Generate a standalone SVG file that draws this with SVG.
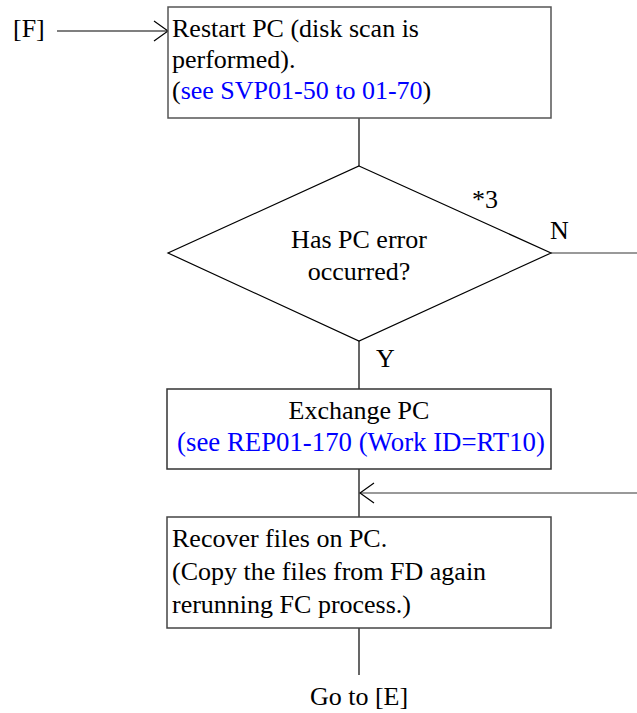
<svg xmlns="http://www.w3.org/2000/svg" width="637" height="713" viewBox="0 0 637 713" font-family="'Liberation Serif', 'DejaVu Serif', serif" font-size="26">
<style>
text{font-family:'Liberation Serif','DejaVu Serif',serif;font-size:26px;fill:#000}
.b{fill:#0000ff}
.box{fill:#fff;stroke:#555;stroke-width:1.5}
.ln{fill:none;stroke:#000;stroke-width:1.2}
.gl{fill:none;stroke:#777;stroke-width:1.5}
.c{text-anchor:middle}
</style>
<defs>
<marker id="oa" viewBox="0 0 16 22" refX="15" refY="11" markerWidth="16" markerHeight="22" markerUnits="userSpaceOnUse" orient="auto">
<path d="M1,1 L15,11 L1,21" fill="none" stroke="#000" stroke-width="1.2"/>
</marker>
</defs>
<g id="connectors">
<line class="ln" x1="57" y1="31" x2="168" y2="31" marker-end="url(#oa)"/>
<line class="ln" x1="359" y1="118" x2="359" y2="166"/>
<line class="gl" x1="551" y1="253" x2="637" y2="253"/>
<line class="ln" x1="359" y1="341" x2="359" y2="389"/>
<line class="ln" x1="359" y1="469" x2="359" y2="517"/>
<line class="gl" x1="637" y1="493" x2="360" y2="493" marker-end="url(#oa)"/>
<line class="ln" x1="359" y1="628" x2="359" y2="675"/>
</g>
<g id="startF">
<text x="13" y="37">[F]</text>
</g>
<g id="restart">
<rect class="box" x="168" y="7" width="383" height="111"/>
<text x="172" y="37">Restart PC (disk scan is</text>
<text x="172" y="68">performed).</text>
<text x="172" y="99">(<tspan class="b">see SVP01-50 to 01-70</tspan>)</text>
</g>
<g id="decision">
<polygon points="359,166 551,253 359,341 168,253" fill="#fff" stroke="#000" stroke-width="1.2"/>
<text class="c" x="359" y="248">Has PC error</text>
<text class="c" x="359" y="280">occurred?</text>
<text x="472" y="208">*3</text>
<text x="550" y="239">N</text>
<text x="376" y="367">Y</text>
</g>
<g id="exchange">
<rect class="box" x="167" y="389" width="384" height="80" style="stroke:#333"/>
<text class="c" x="359" y="419">Exchange PC</text>
<text class="c b" x="361" y="451" style="font-size:26.8px">(see REP01-170 (Work ID=RT10)</text>
</g>
<g id="recover">
<rect class="box" x="167" y="517" width="384" height="111" style="stroke:#444"/>
<text x="172" y="547">Recover files on PC.</text>
<text x="172" y="580">(Copy the files from FD again</text>
<text x="172" y="613">rerunning FC process.)</text>
</g>
<g id="gotoE">
<text class="c" x="359" y="705">Go to [E]</text>
</g>
</svg>
